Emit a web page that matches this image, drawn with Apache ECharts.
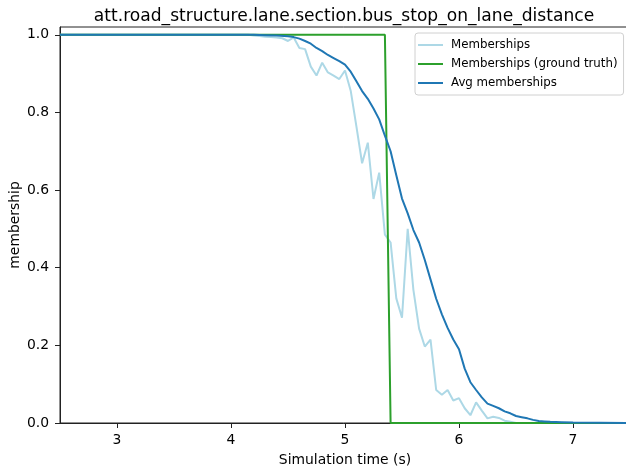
<!DOCTYPE html>
<html>
<head>
<meta charset="utf-8">
<script src="https://cdn.jsdelivr.net/npm/echarts@6/dist/echarts.min.js"></script>
<style>
html,body{margin:0;padding:0;background:#fff;}
#chart{width:626px;height:473px;}
</style>
</head>
<body>
<div id="chart"></div>
<script>
var chartTitle = 'att.road_structure.lane.section.bus_stop_on_lane_distance';
var xTicks = [3, 4, 5, 6, 7];
var yTicks = [0, 0.2, 0.4, 0.6, 0.8, 1.0];

var membershipTimes = [2.5, 4.15, 4.2, 4.25, 4.3, 4.35, 4.4, 4.45, 4.5, 4.55, 4.6, 4.65, 4.7, 4.75, 4.8, 4.85, 4.9, 4.95, 5.0, 5.05, 5.1, 5.15, 5.2, 5.25, 5.3, 5.35, 5.4, 5.45, 5.5, 5.55, 5.6, 5.65, 5.7, 5.75, 5.8, 5.85, 5.9, 5.95, 6.0, 6.05, 6.1, 6.15, 6.2, 6.25, 6.3, 6.35, 6.4, 6.45, 6.5, 7.5];
var membershipValues = [1, 1, 0.998, 0.997, 0.995, 0.994, 0.993, 0.991, 0.984, 0.993, 0.966, 0.963, 0.918, 0.895, 0.928, 0.903, 0.895, 0.886, 0.908, 0.856, 0.764, 0.669, 0.722, 0.577, 0.645, 0.485, 0.465, 0.321, 0.271, 0.5, 0.343, 0.243, 0.197, 0.215, 0.085, 0.073, 0.085, 0.058, 0.064, 0.038, 0.02, 0.053, 0.032, 0.012, 0.016, 0.013, 0.006, 0.003, 0, 0];

var truthTimes = [2.5, 5.35, 5.4, 7.5];
var truthValues = [1, 1, 0, 0];

var avgTimes = [2.5, 4.2, 4.3, 4.4, 4.5, 4.55, 4.6, 4.65, 4.7, 4.75, 4.8, 4.85, 4.9, 4.95, 5.0, 5.05, 5.1, 5.15, 5.2, 5.25, 5.3, 5.35, 5.4, 5.45, 5.5, 5.55, 5.6, 5.65, 5.7, 5.75, 5.8, 5.85, 5.9, 5.95, 6.0, 6.05, 6.1, 6.15, 6.2, 6.25, 6.3, 6.35, 6.4, 6.45, 6.5, 6.55, 6.6, 6.65, 6.7, 6.75, 6.8, 6.9, 7.0, 7.5];
var avgValues = [1, 1, 0.999, 0.998, 0.996, 0.994, 0.99, 0.984, 0.977, 0.966, 0.958, 0.948, 0.94, 0.932, 0.923, 0.905, 0.88, 0.855, 0.835, 0.81, 0.782, 0.74, 0.7, 0.638, 0.578, 0.54, 0.497, 0.465, 0.42, 0.37, 0.32, 0.28, 0.245, 0.215, 0.19, 0.14, 0.105, 0.085, 0.066, 0.05, 0.044, 0.038, 0.03, 0.025, 0.018, 0.015, 0.012, 0.008, 0.005, 0.004, 0.003, 0.002, 0.001, 0];

function zip(xs, ys) { return xs.map(function (x, i) { return [x, ys[i]]; }); }

var FONT = 'DejaVu Sans';
var chart = echarts.init(document.getElementById('chart'), null, {renderer: 'canvas'});
chart.setOption({
  animation: false,
  backgroundColor: '#fff',
  textStyle: {fontFamily: FONT},
  title: {
    text: chartTitle,
    left: 339,
    top: 3,
    textAlign: 'center',
    textStyle: {fontFamily: FONT, fontSize: 17.1, fontWeight: 'normal', color: '#000'}
  },
  grid: {left: 60, top: 27, right: -4, bottom: 50, outerBoundsMode: 'none', containLabel: false,
    show: true, borderColor: '#222', borderWidth: 1, backgroundColor: 'transparent'},
  legend: {
    orient: 'vertical',
    left: 415,
    top: 33,
    icon: 'rect',
    itemWidth: 25,
    itemHeight: 2,
    itemGap: 5,
    padding: [5, 6, 5, 3],
    borderColor: '#d0d0d0',
    borderWidth: 1,
    borderRadius: 3,
    backgroundColor: 'rgba(255,255,255,0.8)',
    textStyle: {fontFamily: FONT, fontSize: 11.8, lineHeight: 14, color: '#000', padding: [0, 0, 0, 3]},
    data: ['Memberships', 'Memberships (ground truth)', 'Avg memberships']
  },
  xAxis: {
    type: 'value',
    min: 2.5,
    max: 7.5,
    name: 'Simulation time (s)',
    nameLocation: 'middle',
    nameGap: 30,
    nameMoveOverlap: false,
    nameTextStyle: {fontFamily: FONT, fontSize: 13.9, color: '#000'},
    axisLine: {show: true, onZero: false, lineStyle: {color: '#222', width: 1}},
    axisTick: {show: true, length: 5, customValues: xTicks, lineStyle: {color: '#222', width: 1}},
    axisLabel: {customValues: xTicks, margin: 10, fontFamily: FONT, fontSize: 13.9, color: '#000'},
    splitLine: {show: false}
  },
  yAxis: {
    type: 'value',
    min: 0,
    max: 1.02,
    name: 'membership',
    nameLocation: 'middle',
    nameRotate: 90,
    nameGap: 38,
    nameMoveOverlap: false,
    nameTextStyle: {fontFamily: FONT, fontSize: 13.9, color: '#000'},
    axisLine: {show: true, lineStyle: {color: '#222', width: 1}},
    axisTick: {show: true, length: 5, customValues: yTicks, lineStyle: {color: '#222', width: 1}},
    axisLabel: {customValues: yTicks, margin: 11, fontFamily: FONT, fontSize: 13.9, color: '#000',
      formatter: function (v) { return v.toFixed(1); }},
    splitLine: {show: false}
  },
  series: [
    {name: 'Memberships', type: 'line', data: zip(membershipTimes, membershipValues), showSymbol: false, symbol: 'none',
      lineStyle: {color: '#ADD8E6', width: 2}, itemStyle: {color: '#ADD8E6'}, z: 2},
    {name: 'Memberships (ground truth)', type: 'line', data: zip(truthTimes, truthValues), showSymbol: false, symbol: 'none',
      lineStyle: {color: '#2ca02c', width: 2}, itemStyle: {color: '#2ca02c'}, z: 3},
    {name: 'Avg memberships', type: 'line', data: zip(avgTimes, avgValues), showSymbol: false, symbol: 'none',
      lineStyle: {color: '#1f77b4', width: 2}, itemStyle: {color: '#1f77b4'}, z: 4}
  ]
});
</script>
</body>
</html>
